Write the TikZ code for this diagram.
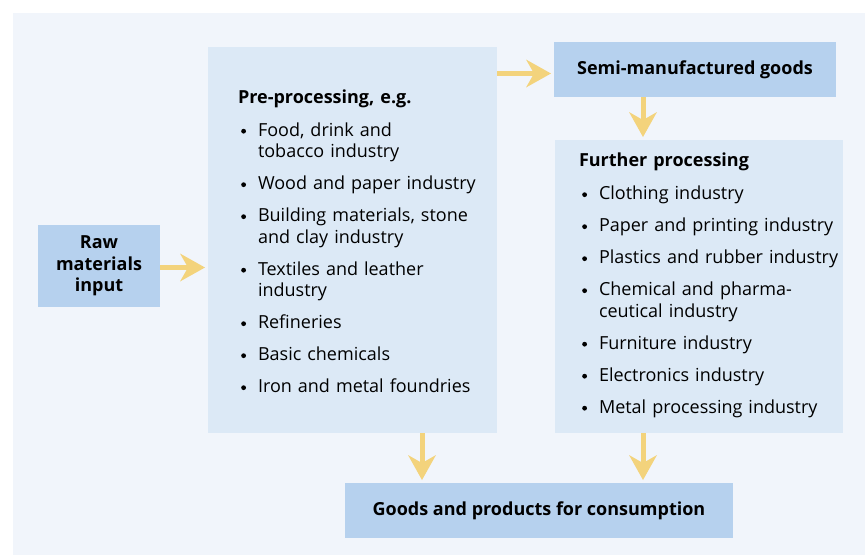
\documentclass[tikz,border=0pt]{standalone}
\usepackage{fontspec}
\setmainfont{Open Sans}
\usepackage{enumitem}
\usetikzlibrary{arrows.meta}

\newcommand\listdot{\tikz[baseline=-5pt]\fill (0,0) circle (2.4pt);}
\setlist[itemize]{label=\listdot,leftmargin=20pt,labelsep=12pt,itemsep=10.5pt,parsep=0pt,topsep=0pt,partopsep=0pt}

\begin{document}
\fontsize{18}{21.5}\selectfont
\begin{tikzpicture}[x=1pt,y=-1pt,
  box/.style={fill=darkColor,inner sep=0pt,outer sep=0pt,align=center,font=\bfseries},
  panel/.style={fill=lightColor,inner sep=0pt,outer sep=0pt},
  listtext/.style={anchor=north west,inner sep=0pt,outer sep=0pt,text width=#1},
  flow/.style={draw=arrowColor,line width=5pt,shorten >=3pt,
    -{Stealth[length=25pt,width=28pt,inset=8pt,line width=0pt]}}]
\definecolor{bgColor}{RGB}{241,245,251}
\definecolor{lightColor}{RGB}{220,233,246}
\definecolor{darkColor}{RGB}{182,209,238}
\definecolor{arrowColor}{RGB}{243,211,124}
\path[use as bounding box] (0,0) rectangle (865,555);
\fill[bgColor] (13,13) rectangle (865,555);

% boxes
\node[box,minimum width=122pt,minimum height=82pt] (raw) at (99,266) {Raw\\materials\\input};
\node[panel,minimum width=289pt,minimum height=386pt] (pre) at (352.5,240) {};
\node[box,minimum width=282pt,minimum height=55pt] (semi) at (695,69.5) {Semi-manufactured goods};
\node[panel,minimum width=288pt,minimum height=293pt] (further) at (699,286.5) {};
\node[box,minimum width=388pt,minimum height=55pt] (goods) at (539,510.5) {Goods and products for consumption};

% lists
\node[listtext=255pt] (pretext) at (238,89.5) {%
  \textbf{Pre-processing, e.g.}\par\vspace{11.5pt}
  \begin{itemize}
  \item Food, drink and\\tobacco industry
  \item Wood and paper industry
  \item Building materials, stone\\and clay industry
  \item Textiles and leather\\industry
  \item Refineries
  \item Basic chemicals
  \item Iron and metal foundries
  \end{itemize}};
\node[listtext=265pt] (furthertext) at (579,153) {%
  \textbf{Further processing}\par\vspace{11.5pt}
  \begin{itemize}
  \item Clothing industry
  \item Paper and printing industry
  \item Plastics and rubber industry
  \item Chemical and pharma-\\ceutical industry
  \item Furniture industry
  \item Electronics industry
  \item Metal processing industry
  \end{itemize}};

% flows
\draw[flow] (raw.east |- 0,267.5) -- (pre.west |- 0,267.5);
\draw[flow] (pre.east |- 0,73.5) -- (semi.west |- 0,73.5);
\draw[flow] (semi.south -| 643,0) -- (further.north -| 643,0);
\draw[flow] (pre.south -| 422,0) -- (goods.north -| 422,0);
\draw[flow] (further.south -| 643,0) -- (goods.north -| 643,0);
\end{tikzpicture}
\end{document}
